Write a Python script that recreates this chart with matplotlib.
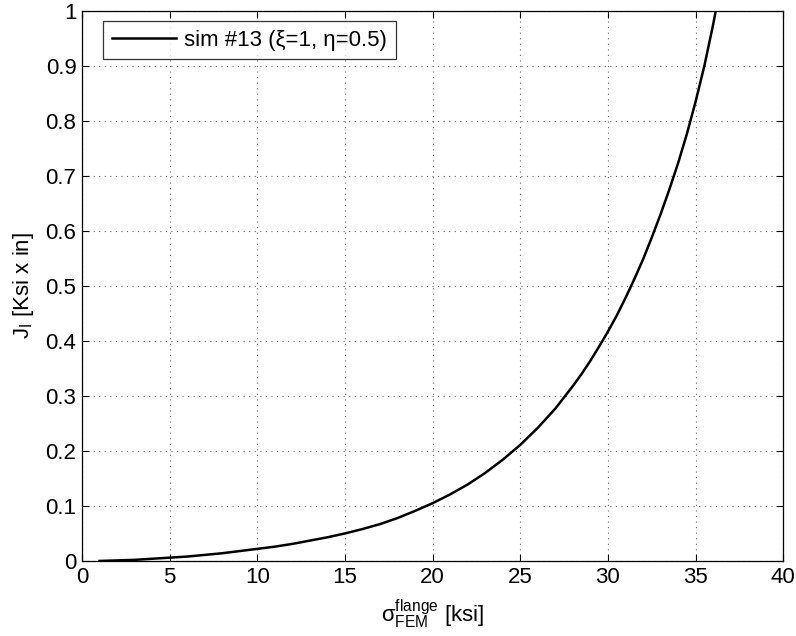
import matplotlib
matplotlib.use('Agg')
import matplotlib.pyplot as plt

# MATLAB-ish look
plt.rcParams['font.family'] = ['Liberation Sans', 'DejaVu Sans']
plt.rcParams['font.size'] = 16
plt.rcParams['mathtext.fontset'] = 'custom'
plt.rcParams['mathtext.rm'] = 'Liberation Sans'
plt.rcParams['mathtext.it'] = 'Liberation Sans:italic'

# values
sigma = [1, 2, 3, 4, 5, 6, 7, 8, 9, 10, 11, 12, 13, 14, 15, 16, 17, 18, 19, 20,
         21, 22, 23, 24, 25, 26, 27, 28, 28.5, 29, 29.5, 30, 30.5, 31, 31.5,
         32, 32.5, 33, 33.5, 34, 34.5, 35, 35.5, 36, 36.15]
J = [0.000, 0.001, 0.002, 0.004, 0.006, 0.008, 0.011, 0.014, 0.018, 0.022,
     0.026, 0.031, 0.037, 0.043, 0.050, 0.058, 0.067, 0.078, 0.091, 0.105,
     0.121, 0.139, 0.160, 0.184, 0.211, 0.242, 0.277, 0.318, 0.340, 0.364,
     0.390, 0.417, 0.446, 0.478, 0.512, 0.548, 0.588, 0.630, 0.675, 0.723,
     0.776, 0.835, 0.900, 0.975, 1.000]

xticks = [0, 5, 10, 15, 20, 25, 30, 35, 40]
yticks = [0, 0.1, 0.2, 0.3, 0.4, 0.5, 0.6, 0.7, 0.8, 0.9, 1]
yticklabels = ['0', '0.1', '0.2', '0.3', '0.4', '0.5', '0.6', '0.7', '0.8', '0.9', '1']

fig = plt.figure(figsize=(7.96, 6.36), dpi=100)
ax = fig.add_axes([0.103, 0.118, 0.881, 0.865])

ax.plot(sigma, J, color='black', linewidth=1.8, label='sim #13 (ξ=1, η=0.5)')

ax.set_xlim(0, 40)
ax.set_ylim(0, 1)
ax.set_xticks(xticks)
ax.set_yticks(yticks)
ax.set_yticklabels(yticklabels)
ax.tick_params(direction='in', top=True, right=True, length=5, width=0.8, labelsize=16, pad=4)
ax.grid(True, linestyle=(0, (1, 4)), color='#666666', linewidth=0.8)
for s in ax.spines.values():
    s.set_linewidth(0.9)

ax.set_xlabel(r'$\mathrm{σ}^{\mathrm{flange}}_{\mathrm{FEM}}$ [ksi]', fontsize=16, labelpad=7)
ax.set_ylabel(r'$\mathrm{J}_{\mathrm{I}}$ [Ksi x in]', fontsize=16, labelpad=7)

leg = ax.legend(loc='upper left', fontsize=16, frameon=True, fancybox=False,
                edgecolor='black', handlelength=2.9, handletextpad=0.35,
                borderpad=0.4, borderaxespad=0,
                bbox_to_anchor=(0.030, 0.982))
leg.get_frame().set_linewidth(0.9)

fig.savefig('out.png', dpi=100)
